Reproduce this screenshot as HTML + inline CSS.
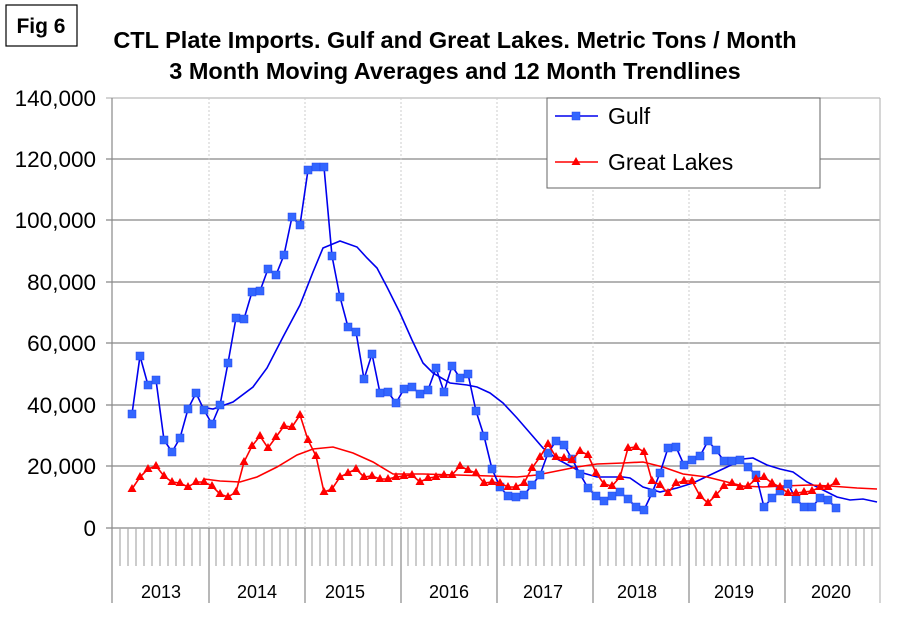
<!DOCTYPE html>
<html><head><meta charset="utf-8"><style>
body{margin:0;background:#fff;}
svg{display:block;font-family:"Liberation Sans",Arial,sans-serif;}
</style></head><body>
<svg width="910" height="622" viewBox="0 0 910 622" xmlns="http://www.w3.org/2000/svg">
<defs>
<marker id="sq" markerUnits="userSpaceOnUse" markerWidth="10" markerHeight="10" refX="4" refY="4" overflow="visible"><rect x="0" y="0" width="8" height="8" fill="#3366ff" stroke="#2244ee" stroke-width="0.5"/></marker>
<marker id="tri" markerUnits="userSpaceOnUse" markerWidth="10" markerHeight="10" refX="4.5" refY="5" overflow="visible"><polygon points="4.5,0 9,8 0,8" fill="#ff0000"/></marker>
</defs>
<rect x="6" y="5" width="71" height="41" fill="#fff" stroke="#000" stroke-width="1.2"/>
<text x="41" y="33" font-size="21" font-weight="bold" text-anchor="middle">Fig 6</text>
<text x="455" y="48" font-size="23.5" font-weight="bold" text-anchor="middle">CTL Plate Imports. Gulf and Great Lakes. Metric Tons / Month</text>
<text x="455" y="79" font-size="23.5" font-weight="bold" text-anchor="middle">3 Month Moving Averages and 12 Month Trendlines</text>
<g stroke="#888" stroke-width="1.2">
<line x1="106" y1="98" x2="880" y2="98" stroke="#bbb"/>
<line x1="106" y1="159" x2="880" y2="159"/>
<line x1="106" y1="220" x2="880" y2="220"/>
<line x1="106" y1="282" x2="880" y2="282"/>
<line x1="106" y1="343" x2="880" y2="343"/>
<line x1="106" y1="405" x2="880" y2="405"/>
<line x1="106" y1="466" x2="880" y2="466"/>
<line x1="106" y1="528" x2="880" y2="528"/>
<line x1="112" y1="98" x2="112" y2="603"/>
<line x1="880" y1="98" x2="880" y2="603" stroke="#bbb"/>
</g>
<g stroke="#ccc" stroke-dasharray="2,2">
<line x1="209" y1="98" x2="209" y2="528"/><line x1="305" y1="98" x2="305" y2="528"/><line x1="401" y1="98" x2="401" y2="528"/><line x1="497" y1="98" x2="497" y2="528"/><line x1="593" y1="98" x2="593" y2="528"/><line x1="689" y1="98" x2="689" y2="528"/><line x1="785" y1="98" x2="785" y2="528"/>
</g>
<path stroke="#aaa" stroke-width="1.2" d="M120 528V566M128 528V566M136 528V566M144 528V566M152 528V566M160 528V566M168 528V566M176 528V566M184 528V566M192 528V566M200 528V566M216 528V566M224 528V566M232 528V566M240 528V566M248 528V566M256 528V566M264 528V566M272 528V566M280 528V566M288 528V566M296 528V566M312 528V566M320 528V566M328 528V566M336 528V566M344 528V566M352 528V566M360 528V566M368 528V566M376 528V566M384 528V566M392 528V566M408 528V566M416 528V566M424 528V566M432 528V566M440 528V566M448 528V566M456 528V566M464 528V566M472 528V566M480 528V566M488 528V566M504 528V566M512 528V566M520 528V566M528 528V566M536 528V566M544 528V566M552 528V566M560 528V566M568 528V566M576 528V566M584 528V566M600 528V566M608 528V566M616 528V566M624 528V566M632 528V566M640 528V566M648 528V566M656 528V566M664 528V566M672 528V566M680 528V566M696 528V566M704 528V566M712 528V566M720 528V566M728 528V566M736 528V566M744 528V566M752 528V566M760 528V566M768 528V566M776 528V566M792 528V566M800 528V566M808 528V566M816 528V566M824 528V566M832 528V566M840 528V566M848 528V566M856 528V566M864 528V566M872 528V566"/>
<path stroke="#888" stroke-width="1.2" d="M209 528V603M305 528V603M401 528V603M497 528V603M593 528V603M689 528V603M785 528V603"/>
<g font-size="22.5" text-anchor="end">
<text x="96" y="106">140,000</text><text x="96" y="167">120,000</text><text x="96" y="228">100,000</text><text x="96" y="290">80,000</text><text x="96" y="351">60,000</text><text x="96" y="413">40,000</text><text x="96" y="474">20,000</text><text x="96" y="536">0</text>
</g>
<g font-size="18" text-anchor="middle">
<text x="161" y="598">2013</text><text x="257" y="598">2014</text><text x="345" y="598">2015</text><text x="449" y="598">2016</text><text x="543" y="598">2017</text><text x="637" y="598">2018</text><text x="734" y="598">2019</text><text x="831" y="598">2020</text>
</g>
<!-- trendlines -->
<polyline fill="none" stroke="#0000ee" stroke-width="1.6" points="200,407 213,409 233,402 253,387 267,368 283,337 300,305 313,272 323,248 340,241 357,247 367,258 377,268 387,287 400,313 412,340 423,363 433,373 450,383 467,385 477,387 490,393 503,403 517,418 530,433 543,448 557,459 570,466 583,473 597,477 623,477 630,478 643,487 660,492 677,488 693,483 710,475 727,467 743,459 753,458 767,465 780,469 793,472 807,482 823,490 837,497 850,500 863,499 877,502"/>
<polyline fill="none" stroke="#ff0000" stroke-width="1.6" points="204,479 220,481 240,482 257,477 277,467 297,455 313,449 333,447 353,453 373,462 393,474 423,474 457,475 490,476 517,477 537,475 557,471 577,467 597,464 623,463 643,462 663,467 683,474 707,477 723,481 743,486 763,487 783,486 810,485 830,486 857,488 877,489"/>
<!-- Gulf -->
<polyline fill="none" stroke="#0000ee" stroke-width="1.6" marker-start="url(#sq)" marker-mid="url(#sq)" marker-end="url(#sq)" points="132,414 140,356 148,385 156,380 164,440 172,452 180,438 188,409 196,393 204,410 212,424 220,405 228,363 236,318 244,319 252,292 260,291 268,269 276,275 284,255 292,217 300,225 308,170 316,167 324,167 332,256 340,297 348,327 356,332 364,379 372,354 380,393 388,392 396,403 404,389 412,387 420,394 428,390 436,368 444,392 452,366 460,378 468,374 476,411 484,436 492,469 500,487 508,496 516,497 524,495 532,485 540,475 548,453 556,441 564,445 572,459 580,474 588,488 596,496 604,501 612,496 620,492 628,499 636,507 644,510 652,493 660,473 668,448 676,447 684,465 692,460 700,456 708,441 716,450 724,461 732,461 740,460 748,467 756,475 764,507 772,498 780,491 788,484 796,499 804,507 812,507 820,498 828,500 836,508"/>
<!-- Great Lakes -->
<polyline fill="none" stroke="#ff0000" stroke-width="1.6" marker-start="url(#tri)" marker-mid="url(#tri)" marker-end="url(#tri)" points="132,489 140,477 148,469 156,466 164,476 172,482 180,483 188,487 196,482 204,482 212,486 220,494 228,497 236,492 244,462 252,446 260,436 268,448 276,437 284,426 292,427 300,415 308,440 316,456 324,492 332,489 340,477 348,473 356,469 364,477 372,476 380,479 388,479 396,477 404,476 412,475 420,482 428,478 436,477 444,475 452,475 460,466 468,470 476,473 484,483 492,482 500,483 508,487 516,487 524,483 532,468 540,457 548,444 556,457 564,458 572,460 580,451 588,455 596,473 604,484 612,486 620,477 628,448 636,447 644,452 652,481 660,485 668,493 676,483 684,481 692,481 700,496 708,503 716,495 724,486 732,483 740,487 748,486 756,479 764,477 772,483 780,487 788,493 796,493 804,492 812,491 820,487 828,487 836,482"/>
<!-- legend -->
<rect x="547" y="98" width="273" height="90" fill="#fff" stroke="#666" stroke-width="1"/>
<polyline fill="none" stroke="#0000ee" stroke-width="1.6" marker-mid="url(#sq)" points="555,116 576,116 598,116"/>
<text x="608" y="124" font-size="23">Gulf</text>
<polyline fill="none" stroke="#ff0000" stroke-width="1.6" marker-mid="url(#tri)" points="555,162 576,162 598,162"/>
<text x="608" y="170" font-size="23">Great Lakes</text>
</svg>
</body></html>
